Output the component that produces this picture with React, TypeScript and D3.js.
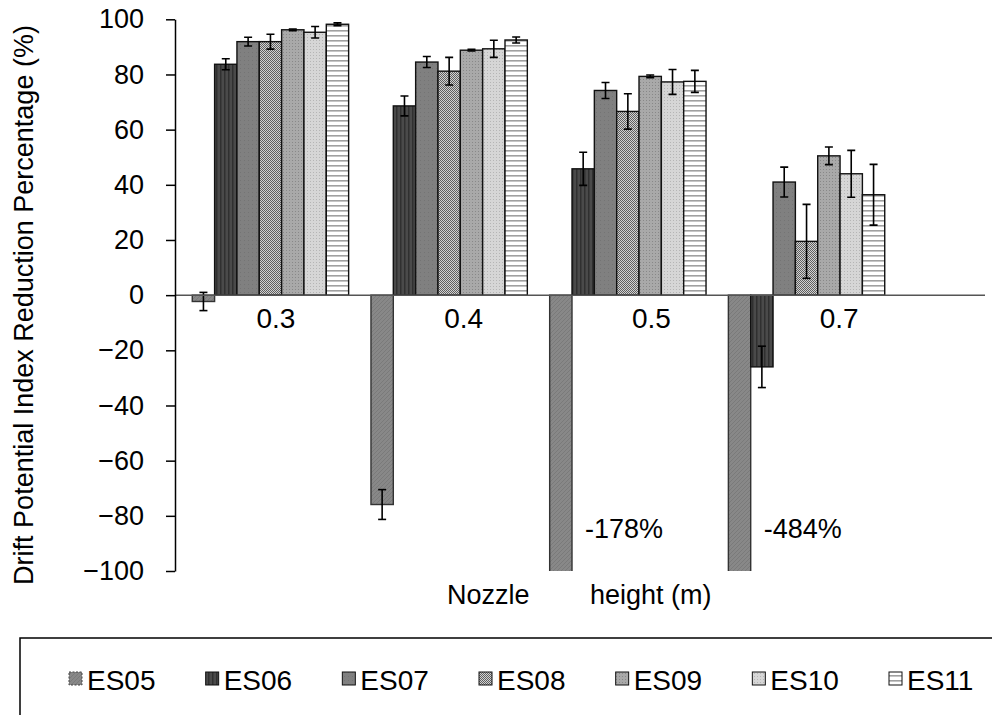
import React, { useEffect, useRef } from 'react';
import * as d3 from 'd3';

// categories (nozzle height, m)
const categories = ['0.3', '0.4', '0.5', '0.7'];
const seriesNames = ['ES05', 'ES06', 'ES07', 'ES08', 'ES09', 'ES10', 'ES11'];

// DIX reduction (%) per series, one value per category
const es05 = [-2.3, -75.9, -178, -484];
const es06 = [83.7, 68.6, 45.8, -26];
const es07 = [91.9, 84.5, 74.2, 41];
const es08 = [91.9, 81.2, 66.6, 19.5];
const es09 = [96.2, 88.8, 79.3, 50.5];
const es10 = [95.3, 89.3, 77.3, 44];
const es11 = [98.2, 92.5, 77.5, 36.4];

// error bars (+/-)
const es05Err = [3.3, 5.4, 0, 0];
const es06Err = [2, 3.6, 6, 7.5];
const es07Err = [1.6, 2, 2.9, 5.4];
const es08Err = [2.7, 5, 6.4, 13.4];
const es09Err = [0.3, 0.3, 0.5, 3.2];
const es10Err = [2.1, 3.1, 4.5, 8.5];
const es11Err = [0.5, 1.1, 4, 11];

// labels written on the clipped bars
const offScaleLabels = ['', '', '-178%', '-484%'];

const yTicks = [100, 80, 60, 40, 20, 0, -20, -40, -60, -80, -100];

const FONT = '"Liberation Sans", Arial, sans-serif';

const App = () => {
  const svgRef = useRef<SVGSVGElement>(null);

  useEffect(() => {
    const width = 992;
    const height = 715;
    const values = [es05, es06, es07, es08, es09, es10, es11];
    const errors = [es05Err, es06Err, es07Err, es08Err, es09Err, es10Err, es11Err];

    const svg = d3.select(svgRef.current);
    svg.selectAll('*').remove();
    svg.attr('width', width).attr('height', height);

    const defs = svg.append('defs');

    // fill patterns, mimicking the grey-scale office hatches
    const pat = (id: string, w: number, h: number, bg: string) => {
      const p = defs.append('pattern').attr('id', id)
        .attr('patternUnits', 'userSpaceOnUse').attr('width', w).attr('height', h);
      p.append('rect').attr('width', w).attr('height', h).attr('fill', bg);
      return p;
    };
    let p = pat('p05', 4, 4, '#888888');
    p.append('path').attr('d', 'M0,4 L4,0').attr('stroke', '#7a7a7a').attr('stroke-width', 1);
    p = pat('p06', 4, 4, '#4a4a4a');
    p.append('rect').attr('x', 0).attr('width', 1.5).attr('height', 4).attr('fill', '#303030');
    p = pat('p07', 4, 4, '#808080');
    p.append('rect').attr('x', 0).attr('y', 0).attr('width', 1).attr('height', 1).attr('fill', '#747474');
    p = pat('p08', 2, 2, '#d2d2d2');
    p.append('rect').attr('x', 0).attr('y', 0).attr('width', 1).attr('height', 1).attr('fill', '#606060');
    p.append('rect').attr('x', 1).attr('y', 1).attr('width', 1).attr('height', 1).attr('fill', '#606060');
    p = pat('p09', 3, 3, '#a9a9a9');
    p.append('rect').attr('x', 1).attr('y', 1).attr('width', 1).attr('height', 1).attr('fill', '#888');
    p = pat('p10', 3, 3, '#d6d6d6');
    p.append('rect').attr('x', 1).attr('y', 1).attr('width', 1).attr('height', 1).attr('fill', '#b5b5b5');
    p = pat('p11', 4, 5, '#ffffff');
    p.append('rect').attr('y', 0).attr('width', 4).attr('height', 1.6).attr('fill', '#a0a0a0');
    const fills = ['p05', 'p06', 'p07', 'p08', 'p09', 'p10', 'p11'];

    const y = d3.scaleLinear().domain([-100, 100]).range([571, 19.3]);
    const step = 178.7;
    const x0 = d3.scaleBand<string>().domain(categories)
      .range([181.1, 181.1 + categories.length * step])
      .paddingInner(0.125).paddingOuter(0.0625);
    const x1 = d3.scaleBand<string>().domain(seriesNames).range([0, x0.bandwidth()]);
    const xLabel = d3.scaleBand<string>().domain(categories).range([182, 933]);

    defs.append('clipPath').attr('id', 'plotClip')
      .append('rect').attr('x', 176).attr('y', y(100)).attr('width', 800).attr('height', y(-100) - y(100));

    const plot = svg.append('g').attr('clip-path', 'url(#plotClip)');

    seriesNames.forEach((name, s) => {
      categories.forEach((cat, c) => {
        const v = values[s][c];
        const bx = (x0(cat) as number) + (x1(name) as number);
        const bw = x1.bandwidth();
        plot.append('rect')
          .attr('x', bx)
          .attr('y', Math.min(y(v), y(0)))
          .attr('width', bw)
          .attr('height', Math.abs(y(v) - y(0)))
          .attr('fill', `url(#${fills[s]})`)
          .attr('stroke', s === 0 ? '#333' : '#111')
          .attr('stroke-width', 1.4);
      });
    });

    // zero line
    svg.append('line')
      .attr('x1', 175).attr('x2', 985).attr('y1', y(0)).attr('y2', y(0))
      .attr('stroke', '#555').attr('stroke-width', 1.5);

    // error bars
    seriesNames.forEach((name, s) => {
      categories.forEach((cat, c) => {
        const e = errors[s][c];
        if (!e) return;
        const v = values[s][c];
        const cx = (x0(cat) as number) + (x1(name) as number) + x1.bandwidth() / 2;
        const g = plot.append('g').attr('stroke', '#000').attr('stroke-width', 1.6);
        g.append('line').attr('x1', cx).attr('x2', cx).attr('y1', y(v + e)).attr('y2', y(v - e));
        g.append('line').attr('x1', cx - 4).attr('x2', cx + 4).attr('y1', y(v + e)).attr('y2', y(v + e));
        g.append('line').attr('x1', cx - 4).attr('x2', cx + 4).attr('y1', y(v - e)).attr('y2', y(v - e));
      });
    });

    // y axis
    const yAxis = svg.append('g')
      .attr('transform', 'translate(175,0)')
      .call(d3.axisLeft(y).tickValues(yTicks).tickSize(9).tickPadding(22).tickSizeOuter(0));
    yAxis.select('.domain').attr('stroke', '#000').attr('stroke-width', 1.5);
    yAxis.selectAll('.tick line').attr('stroke', '#000').attr('stroke-width', 1.5);
    yAxis.selectAll('.tick text')
      .attr('font-family', FONT).attr('font-size', 27).attr('fill', '#000');

    // category labels
    categories.forEach((cat) => {
      svg.append('text')
        .attr('x', (xLabel(cat) as number) + xLabel.bandwidth() / 2)
        .attr('y', 328)
        .attr('text-anchor', 'middle')
        .attr('font-family', FONT).attr('font-size', 28)
        .text(cat);
    });

    // values of the ES05 bars that run off the scale
    categories.forEach((cat, c) => {
      if (!offScaleLabels[c]) return;
      const bx = (x0(cat) as number) + (x1('ES05') as number) + x1.bandwidth();
      svg.append('text')
        .attr('x', bx + 13).attr('y', 538)
        .attr('font-family', FONT).attr('font-size', 27)
        .text(offScaleLabels[c]);
    });

    // axis titles
    svg.append('text')
      .attr('transform', 'translate(33,305) rotate(-90)')
      .attr('text-anchor', 'middle')
      .attr('font-family', FONT).attr('font-size', 27)
      .text('Drift Potential Index Reduction Percentage (%)');
    svg.append('text')
      .attr('x', 447).attr('y', 604)
      .attr('font-family', FONT).attr('font-size', 27)
      .text('Nozzle');
    svg.append('text')
      .attr('x', 590).attr('y', 604)
      .attr('font-family', FONT).attr('font-size', 27)
      .text('height (m)');

    // legend
    svg.append('rect')
      .attr('x', 20).attr('y', 638).attr('width', 1000).attr('height', 120)
      .attr('fill', 'none').attr('stroke', '#000').attr('stroke-width', 1.5);
    const legendX = d3.scalePoint<string>().domain(seriesNames).range([69, 889]);
    seriesNames.forEach((name, s) => {
      const lx = legendX(name) as number;
      svg.append('rect')
        .attr('x', lx).attr('y', 672).attr('width', 13).attr('height', 13)
        .attr('fill', `url(#${fills[s]})`)
        .attr('stroke', s === 0 ? '#444' : '#111')
        .attr('stroke-dasharray', s === 0 ? '2,1.5' : null)
        .attr('stroke-width', 1);
      svg.append('text')
        .attr('x', lx + 18).attr('y', 690)
        .attr('font-family', FONT).attr('font-size', 28)
        .text(name);
    });
  }, []);

  return <svg ref={svgRef} style={{ display: 'block', position: 'absolute', left: 0, top: 0 }}></svg>;
};

export default App;
